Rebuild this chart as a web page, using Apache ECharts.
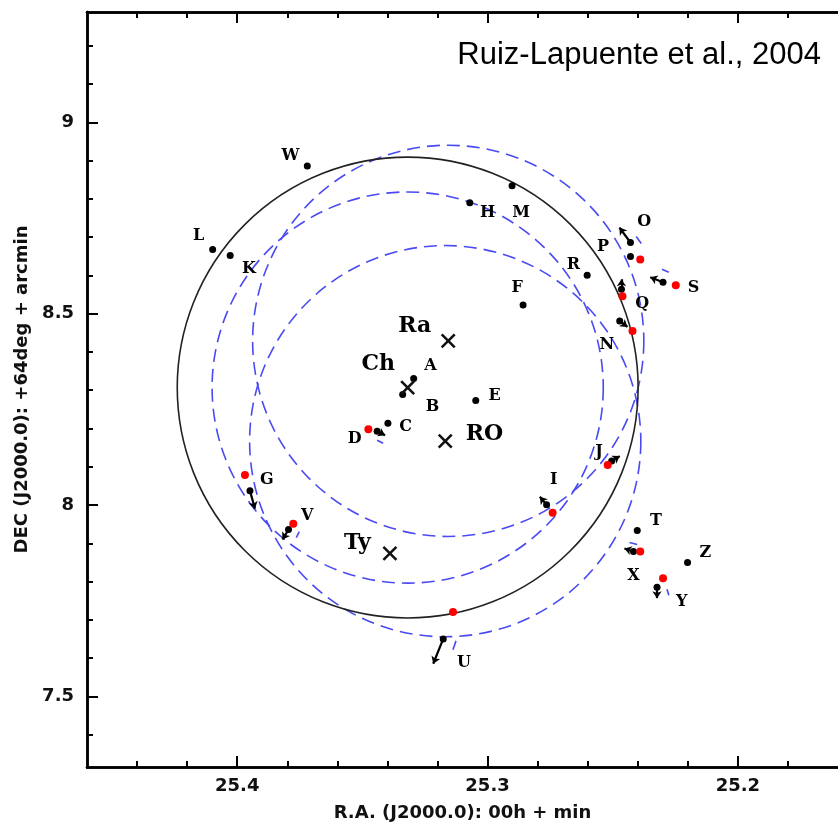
<!DOCTYPE html>
<html>
<head>
<meta charset="utf-8">
<script src="https://cdn.jsdelivr.net/npm/echarts@6/dist/echarts.min.js"></script>
<style>
  html, body { margin: 0; padding: 0; background: #fff; }
  #chart { width: 838px; height: 827px; }
</style>
</head>
<body>
<div id="chart"></div>
<script>
  // star positions, R.A. (min) and DEC (arcmin)
  var starNames = ['W', 'L', 'K', 'H', 'M', 'F', 'R', 'O', 'P', 'S', 'Q', 'N', 'A', 'B', 'C', 'D', 'E', 'I', 'J', 'G', 'V', 'T', 'X', 'Z', 'Y', 'U'];
  var starRA = [25.3720, 25.4098, 25.4028, 25.3071, 25.2902, 25.2858, 25.2602, 25.2429, 25.2429, 25.2299, 25.2465, 25.2472, 25.3295, 25.3339, 25.3398, 25.3441, 25.3047, 25.2764, 25.2504, 25.3949, 25.3795, 25.2402, 25.2417, 25.2201, 25.2323, 25.3177];
  var starDEC = [8.8858, 8.6678, 8.6522, 8.7898, 8.8339, 8.5224, 8.6003, 8.6860, 8.6496, 8.5821, 8.5640, 8.4809, 8.3304, 8.2889, 8.2136, 8.1928, 8.2733, 8.0008, 8.1150, 8.0371, 7.9359, 7.9333, 7.8788, 7.8502, 7.7854, 7.6504];
  var labelRA = [25.3787, 25.4154, 25.3953, 25.3000, 25.2866, 25.2882, 25.2657, 25.2374, 25.2539, 25.2177, 25.2382, 25.2524, 25.3228, 25.3220, 25.3327, 25.3531, 25.2972, 25.2736, 25.2555, 25.3882, 25.3720, 25.2327, 25.2417, 25.2130, 25.2224, 25.3094];
  var labelDEC = [8.9118, 8.7041, 8.6159, 8.7638, 8.7638, 8.5666, 8.6263, 8.7405, 8.6756, 8.5666, 8.5250, 8.4186, 8.3641, 8.2577, 8.2032, 8.1721, 8.2863, 8.0657, 8.1383, 8.0657, 7.9722, 7.9592, 7.8139, 7.8762, 7.7464, 7.5881];

  // red dots
  var redRA = [25.2390, 25.2248, 25.2461, 25.2421, 25.3476, 25.3969, 25.3776, 25.2740, 25.2520, 25.2390, 25.2299, 25.3138];
  var redDEC = [8.6418, 8.5744, 8.5458, 8.4550, 8.1980, 8.0786, 7.9515, 7.9800, 8.1046, 7.8788, 7.8087, 7.7205];

  // proper motion arrows: star -> tip
  var arrowStars = ['O', 'Q', 'S', 'N', 'D', 'I', 'J', 'X', 'Y', 'G', 'V', 'U'];
  var arrowTipRA = [25.2473, 25.2465, 25.2350, 25.2441, 25.3409, 25.2791, 25.2472, 25.2453, 25.2323, 25.3929, 25.3819, 25.3217];
  var arrowTipDEC = [8.7249, 8.5899, 8.5951, 8.4654, 8.1824, 8.0215, 8.1280, 7.8866, 7.7568, 7.9904, 7.9099, 7.5855];

  // short blue error marks
  var errFrom = [[25.3441, 8.1695], [25.2303, 8.6159], [25.2406, 8.7015], [25.2433, 7.9021], [25.2283, 7.7802], [25.3126, 7.6452], [25.3752, 7.9307]];
  var errTo = [[25.3417, 8.1617], [25.2276, 8.6081], [25.2386, 8.6834], [25.2402, 7.8969], [25.2276, 7.7646], [25.3138, 7.6219], [25.3764, 7.9151]];

  // proposed centres
  var centerNames = ['Ra', 'Ch', 'RO', 'Ty'];
  var centerRA = [25.3157, 25.3319, 25.3169, 25.3390];
  var centerDEC = [8.4290, 8.3070, 8.1669, 7.8736];
  var centerLabelRA = [25.3291, 25.3437, 25.3012, 25.3520];
  var centerLabelDEC = [8.4680, 8.3667, 8.1850, 7.8996];

  // circles (radius in arcmin)
  var solidRadius = 0.602;
  var dashedCenters = ['Ch', 'Ra', 'RO'];
  var dashedRadius = 0.511;

  var raMajor = [25.2, 25.3, 25.4];
  var raMinor = [25.18, 25.22, 25.24, 25.26, 25.28, 25.32, 25.34, 25.36, 25.38, 25.42, 25.44];
  var decMajor = [7.5, 8, 8.5, 9];
  var decMinor = [7.4, 7.6, 7.7, 7.8, 7.9, 8.1, 8.2, 8.3, 8.4, 8.6, 8.7, 8.8, 8.9, 9.1, 9.2];

  var labelFont = 'DejaVu Sans';
  var serifFont = 'DejaVu Serif';

  function centerOf (name) {
    var i = centerNames.indexOf(name);
    return [centerRA[i], centerDEC[i]];
  }

  var circleData = [centerOf('Ch').concat([solidRadius])];
  var dashedData = dashedCenters.map(function (n) { return centerOf(n).concat([dashedRadius]); });

  var starData = starNames.map(function (n, i) { return [starRA[i], starDEC[i]]; });
  var redData = redRA.map(function (r, i) { return [r, redDEC[i]]; });
  var labelData = starNames.map(function (n, i) { return { name: n, value: [labelRA[i], labelDEC[i]] }; });
  var centerLabelData = centerNames.map(function (n, i) { return { name: n, value: [centerLabelRA[i], centerLabelDEC[i]] }; });
  var centerData = centerNames.map(function (n, i) { return [centerRA[i], centerDEC[i]]; });
  var arrowData = arrowStars.map(function (n, i) {
    var k = starNames.indexOf(n);
    return { coords: [[starRA[k], starDEC[k]], [arrowTipRA[i], arrowTipDEC[i]]] };
  });
  var errData = errFrom.map(function (p, i) { return { coords: [p, errTo[i]] }; });

  function circleItem (stroke, dash, width) {
    return function (params, api) {
      var c = api.coord([api.value(0), api.value(1)]);
      var r = api.size([0, api.value(2)])[1];
      return {
        type: 'circle',
        shape: { cx: c[0], cy: c[1], r: r },
        style: { fill: 'none', stroke: stroke, lineWidth: width, lineDash: dash }
      };
    };
  }

  function tickAxis (type, pos, values, len, extra) {
    var a = {
      type: 'value',
      position: pos,
      axisLine: { show: true, lineStyle: { color: '#000', width: 2.5 } },
      axisTick: { show: true, inside: true, length: len, customValues: values, lineStyle: { color: '#000', width: 2 } },
      axisLabel: { show: false },
      splitLine: { show: false }
    };
    if (type === 'x') {
      a.min = 25.16;
      a.max = 25.46;
      a.inverse = true;
    } else {
      a.min = 7.3157;
      a.max = 9.2881;
    }
    for (var k in extra) { a[k] = extra[k]; }
    return a;
  }

  function textLabel (size) {
    return {
      show: true,
      position: 'inside',
      formatter: '{b}',
      fontFamily: serifFont,
      fontWeight: 'bold',
      fontSize: size,
      color: '#000',
      textBorderWidth: 0,
      textBorderColor: 'transparent'
    };
  }

  var chart = echarts.init(document.getElementById('chart'));
  chart.setOption({
    animation: false,
    backgroundColor: '#fff',
    title: {
      text: 'Ruiz-Lapuente et al., 2004',
      right: 12,
      top: 35,
      textStyle: { fontFamily: 'Liberation Sans', fontSize: 31, fontWeight: 'normal', color: '#000' }
    },
    grid: { left: 87, top: 12, width: 762, height: 760 },
    xAxis: [
      tickAxis('x', 'bottom', raMajor, 11, {
        name: 'R.A. (J2000.0): 00h + min',
        nameLocation: 'middle',
        nameGap: 37,
        nameTextStyle: { fontFamily: labelFont, fontWeight: 'bold', fontSize: 18, color: '#111' },
        axisLabel: {
          show: true,
          customValues: raMajor,
          margin: 10,
          formatter: function (v) { return v.toFixed(1); },
          fontFamily: labelFont, fontWeight: 'bold', fontSize: 18, color: '#111'
        }
      }),
      tickAxis('x', 'bottom', raMinor, 6, {}),
      tickAxis('x', 'top', raMajor, 11, {}),
      tickAxis('x', 'top', raMinor, 6, {})
    ],
    yAxis: [
      tickAxis('y', 'left', decMajor, 11, {
        name: 'DEC (J2000.0): +64deg + arcmin',
        nameLocation: 'middle',
        nameGap: 50,
        nameTextStyle: { fontFamily: labelFont, fontWeight: 'bold', fontSize: 18, color: '#111' },
        axisLabel: {
          show: true,
          customValues: decMajor,
          margin: 13,
          formatter: function (v) { return String(v); },
          fontFamily: labelFont, fontWeight: 'bold', fontSize: 18, color: '#111'
        }
      }),
      tickAxis('y', 'left', decMinor, 6, {})
    ],
    series: [
      {
        type: 'custom',
        coordinateSystem: 'cartesian2d',
        renderItem: circleItem('#4a4af2', [13, 7], 1.6),
        data: dashedData,
        silent: true,
        z: 1
      },
      {
        type: 'custom',
        coordinateSystem: 'cartesian2d',
        renderItem: circleItem('#222', null, 1.6),
        data: circleData,
        silent: true,
        z: 2
      },
      {
        type: 'lines',
        coordinateSystem: 'cartesian2d',
        data: errData,
        lineStyle: { color: '#4a4af2', width: 1.6, opacity: 1 },
        silent: true,
        z: 3
      },
      {
        type: 'lines',
        coordinateSystem: 'cartesian2d',
        data: arrowData,
        symbol: ['none', 'arrow'],
        symbolSize: 7,
        lineStyle: { color: '#000', width: 2.2, opacity: 1 },
        silent: true,
        z: 4
      },
      {
        type: 'scatter',
        data: starData,
        symbol: 'circle',
        symbolSize: 7,
        itemStyle: { color: '#000', opacity: 1 },
        silent: true,
        z: 5
      },
      {
        type: 'scatter',
        data: redData,
        symbol: 'circle',
        symbolSize: 8,
        itemStyle: { color: '#ff0000', opacity: 1 },
        silent: true,
        z: 5
      },
      {
        type: 'custom',
        coordinateSystem: 'cartesian2d',
        renderItem: function (params, api) {
          var c = api.coord([api.value(0), api.value(1)]);
          var h = 6.5;
          var st = { stroke: '#111', lineWidth: 2.6 };
          return {
            type: 'group',
            children: [
              { type: 'line', shape: { x1: c[0] - h, y1: c[1] - h, x2: c[0] + h, y2: c[1] + h }, style: st },
              { type: 'line', shape: { x1: c[0] - h, y1: c[1] + h, x2: c[0] + h, y2: c[1] - h }, style: st }
            ]
          };
        },
        data: centerData,
        silent: true,
        z: 6
      },
      {
        type: 'scatter',
        data: labelData,
        symbolSize: 0,
        itemStyle: { color: '#000', opacity: 1 },
        label: textLabel(16),
        silent: true,
        z: 7
      },
      {
        type: 'scatter',
        data: centerLabelData,
        symbolSize: 0,
        itemStyle: { color: '#000', opacity: 1 },
        label: textLabel(22),
        silent: true,
        z: 7
      }
    ]
  });
</script>
</body>
</html>
